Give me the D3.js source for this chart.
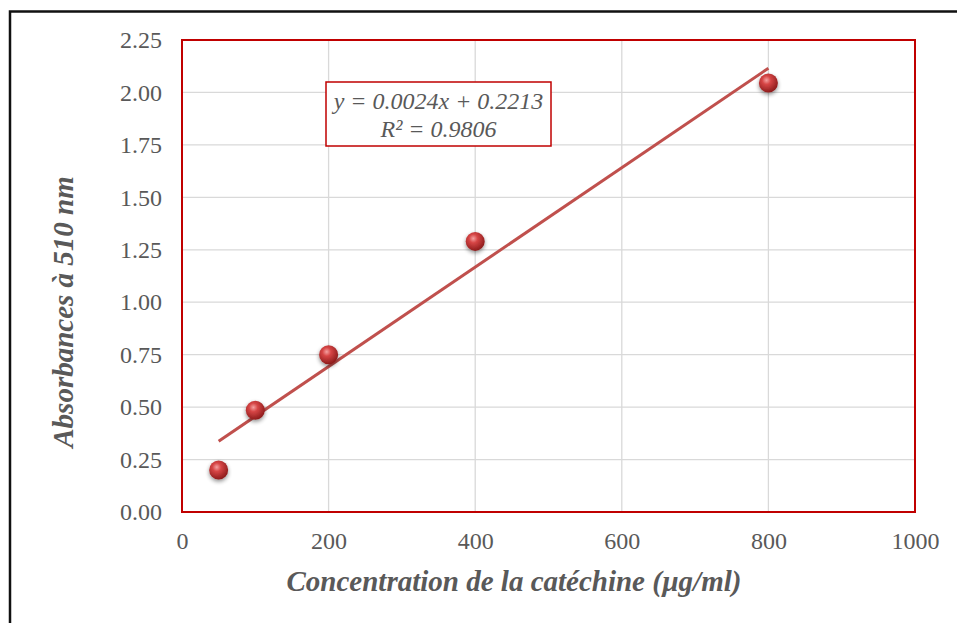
<!DOCTYPE html>
<html><head><meta charset="utf-8">
<script src="https://cdn.jsdelivr.net/npm/d3@7"></script>
<style>body{margin:0;background:#fff}svg{display:block}</style>
</head><body><svg id="c" width="957" height="623"></svg>
<script>
const concentrations = [50, 100, 200, 400, 800];
const absorbances = [0.20, 0.485, 0.75, 1.29, 2.045];
const xTicks = [0, 200, 400, 600, 800, 1000];
const yTicks = [0, 0.25, 0.5, 0.75, 1.0, 1.25, 1.5, 1.75, 2.0, 2.25];
const eqLines = ["y = 0.0024x + 0.2213", "R² = 0.9806"];
const xTitle = "Concentration de la catéchine (µg/ml)";
const yTitle = "Absorbances à 510 nm";

// least-squares fit of the data for the trendline
const mx = d3.mean(concentrations), my = d3.mean(absorbances);
const sxy = d3.sum(concentrations, (c, i) => (c - mx) * (absorbances[i] - my));
const sxx = d3.sum(concentrations, c => (c - mx) ** 2);
const slope = sxy / sxx, intercept = my - slope * mx;

const svg = d3.select("#c");
const L = 182, R = 915, T = 40, B = 512;
const x = d3.scaleLinear().domain([0, 1000]).range([L, R]);
const y = d3.scaleLinear().domain([0, 2.25]).range([B, T]);
const grey = "#595959", font = "'Liberation Serif','Times New Roman',serif";

// outer frame
svg.append("rect").attr("x", 10).attr("y", 11.5).attr("width", 960).attr("height", 640)
  .attr("fill", "none").attr("stroke", "#111").attr("stroke-width", 2.5);

const defs = svg.append("defs");
const rg = defs.append("radialGradient").attr("id", "ball").attr("cx", "40%").attr("cy", "35%").attr("r", "65%");
rg.append("stop").attr("offset", "0%").attr("stop-color", "#f4a0a0");
rg.append("stop").attr("offset", "35%").attr("stop-color", "#d64545");
rg.append("stop").attr("offset", "100%").attr("stop-color", "#8e1c1c");
const sh = defs.append("filter").attr("id", "sh").attr("x", "-50%").attr("y", "-50%").attr("width", "200%").attr("height", "200%");
sh.append("feGaussianBlur").attr("in", "SourceAlpha").attr("stdDeviation", 2);
sh.append("feOffset").attr("dx", 0).attr("dy", 2).attr("result", "b");
sh.append("feComponentTransfer").append("feFuncA").attr("type", "linear").attr("slope", 0.45);
const m = sh.append("feMerge"); m.append("feMergeNode"); m.append("feMergeNode").attr("in", "SourceGraphic");

// gridlines
svg.append("g").selectAll("line.h").data(yTicks.slice(1)).join("line")
  .attr("x1", L).attr("x2", R).attr("y1", d => y(d)).attr("y2", d => y(d))
  .attr("stroke", "#d9d9d9").attr("stroke-width", 1.3);
svg.append("g").selectAll("line.v").data(xTicks.slice(1)).join("line")
  .attr("y1", T).attr("y2", B).attr("x1", d => x(d)).attr("x2", d => x(d))
  .attr("stroke", "#d9d9d9").attr("stroke-width", 1.3);

// axes labels
const xa = svg.append("g").attr("transform", `translate(0,${B})`)
  .call(d3.axisBottom(x).tickValues(xTicks).tickFormat(d3.format("d")).tickSize(0).tickPadding(20));
const ya = svg.append("g").attr("transform", `translate(${L},0)`)
  .call(d3.axisLeft(y).tickValues(yTicks).tickFormat(d3.format(".2f")).tickSize(0).tickPadding(20));
[xa, ya].forEach(a => {
  a.select(".domain").remove();
  a.selectAll("text").attr("fill", grey).attr("font-family", font).attr("font-size", 24);
});

// plot border
svg.append("rect").attr("x", L).attr("y", T).attr("width", R - L).attr("height", B - T)
  .attr("fill", "none").attr("stroke", "#c00000").attr("stroke-width", 2);

// trendline
const x0 = d3.min(concentrations), x1 = d3.max(concentrations);
svg.append("line")
  .attr("x1", x(x0)).attr("y1", y(slope * x0 + intercept))
  .attr("x2", x(x1)).attr("y2", y(slope * x1 + intercept))
  .attr("stroke", "#c0504d").attr("stroke-width", 3);

// points
svg.append("g").selectAll("circle").data(concentrations).join("circle")
  .attr("cx", d => x(d)).attr("cy", (d, i) => y(absorbances[i])).attr("r", 9.5)
  .attr("fill", "url(#ball)").attr("filter", "url(#sh)");

// equation box
svg.append("rect").attr("x", 326).attr("y", 82).attr("width", 225).attr("height", 64)
  .attr("fill", "#fff").attr("stroke", "#c00000").attr("stroke-width", 1.5);
svg.append("g").selectAll("text").data(eqLines).join("text")
  .attr("x", 438.5).attr("y", (d, i) => 109 + i * 28).attr("text-anchor", "middle")
  .attr("fill", grey).attr("font-family", font).attr("font-style", "italic").attr("font-size", 24)
  .text(d => d);

// titles
svg.append("text").attr("x", 514).attr("y", 591).attr("text-anchor", "middle")
  .attr("fill", grey).attr("font-family", font).attr("font-style", "italic").attr("font-weight", "bold")
  .attr("font-size", 29).text(xTitle);
svg.append("text").attr("transform", "translate(73,312) rotate(-90)").attr("text-anchor", "middle")
  .attr("fill", grey).attr("font-family", font).attr("font-style", "italic").attr("font-weight", "bold")
  .attr("font-size", 29).text(yTitle);
</script></body></html>
